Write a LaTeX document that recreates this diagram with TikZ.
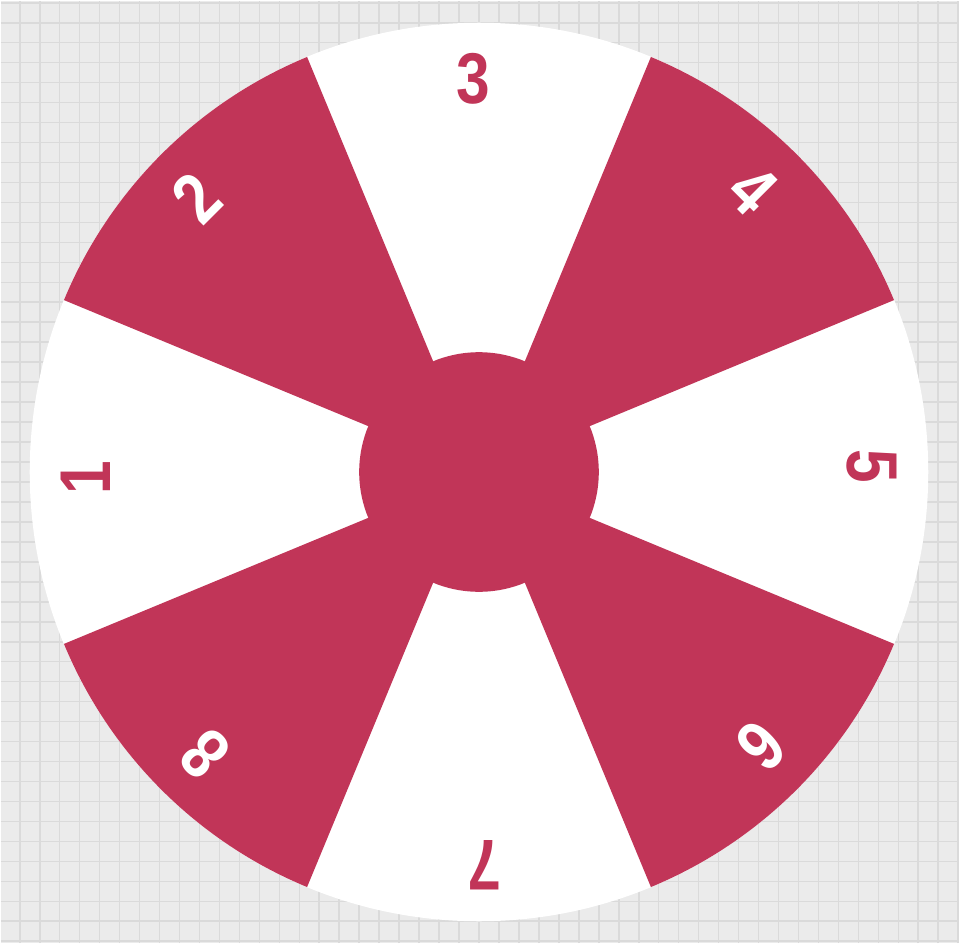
\documentclass[tikz,border=0pt]{standalone}
\usepackage{fontspec}
\setmainfont{Liberation Sans}
\newfontfamily\digitfont[FakeStretch=0.84]{Liberation Sans}
\usepackage{xcolor}
\definecolor{wheelred}{RGB}{193,53,88}
\definecolor{gridbg}{RGB}{235,235,235}
\definecolor{gridline}{RGB}{218,218,218}
\usetikzlibrary{calc}

\begin{document}
\begin{tikzpicture}[x=0.02cm, y=0.02cm,
  digit/.style={font=\digitfont\fontsize{41}{41}\selectfont\bfseries, inner sep=0pt}]

% --- Background grid ---
\fill[gridbg] (-479,-472) rectangle (481,472);
\foreach \gx in {-460,-440,...,480}
  \draw[gridline, line width=0.9pt] (\gx,-472) -- (\gx,472);
\foreach \gy in {-470,-450,...,470}
  \draw[gridline, line width=0.9pt] (-479,\gy) -- (481,\gy);
\useasboundingbox (-479,-472) rectangle (481,472);

% --- Wheel: white base, red sectors ---
\fill[white] (0,0) circle (450);
\foreach \a in {135,45,-45,-135}
  \fill[wheelred] (0,0) -- (\a-22.5:450)
    arc[start angle=\a-22.5, end angle=\a+22.5, radius=450] -- cycle;

% Hub
\fill[wheelred] (0,0) circle (120);

% --- Numbers, top pointing outward ---
\foreach \k/\a/\tc in {1/180/wheelred, 2/135/white, 3/90/wheelred, 4/45/white,
                       5/0/wheelred, 6/-45/white, 7/-90/wheelred, 8/-135/white}
  \node[digit, text=\tc, rotate=\a-90] (num\k) at (\a+0.8:394) {\k};

\end{tikzpicture}
\end{document}
